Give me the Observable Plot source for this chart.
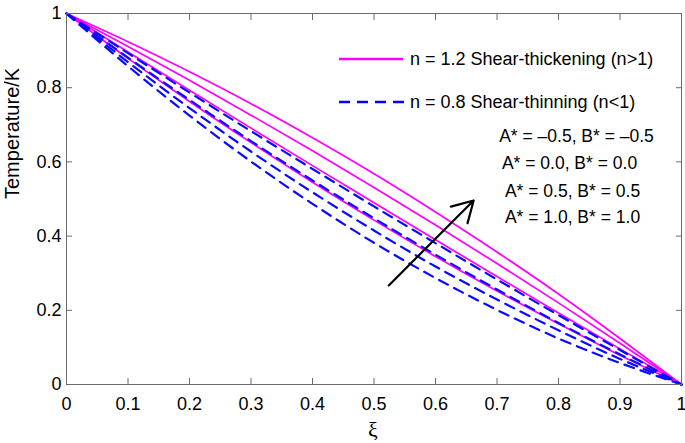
<!DOCTYPE html>
<html><head><meta charset="utf-8">
<script src="https://cdn.jsdelivr.net/npm/d3@7"></script>
<script src="https://cdn.jsdelivr.net/npm/@observablehq/plot@0.6"></script>
<style>body{margin:0;background:#fff}</style>
</head><body><div id="chart"></div>
<script>
// ---- data ----
const xi = [0, 0.1, 0.2, 0.3, 0.4, 0.5, 0.6, 0.7, 0.8, 0.9, 1];
// n = 1.2 shear-thickening (magenta, solid), top to bottom
const thick1 = [1, 0.924, 0.843, 0.757, 0.665, 0.568, 0.465, 0.357, 0.244, 0.124, 0];
const thick2 = [1, 0.911, 0.820, 0.726, 0.630, 0.531, 0.430, 0.326, 0.220, 0.111, 0];
const thick3 = [1, 0.896, 0.793, 0.691, 0.590, 0.490, 0.390, 0.291, 0.193, 0.096, 0];
const thick4 = [1, 0.879, 0.763, 0.652, 0.545, 0.443, 0.345, 0.252, 0.164, 0.079, 0];
// n = 0.8 shear-thinning (blue, dashed), top to bottom
const thin1 = [1, 0.893, 0.787, 0.683, 0.581, 0.480, 0.381, 0.283, 0.187, 0.093, 0];
const thin2 = [1, 0.881, 0.767, 0.656, 0.550, 0.448, 0.350, 0.256, 0.166, 0.081, 0];
const thin3 = [1, 0.869, 0.745, 0.628, 0.518, 0.415, 0.318, 0.229, 0.146, 0.069, 0];
const thin4 = [1, 0.858, 0.725, 0.601, 0.487, 0.382, 0.287, 0.201, 0.124, 0.058, 0];
const xTicks = [0, 0.1, 0.2, 0.3, 0.4, 0.5, 0.6, 0.7, 0.8, 0.9, 1];
const yTicks = [0, 0.2, 0.4, 0.6, 0.8, 1];
const legendLabels = ["n = 1.2 Shear-thickening (n>1)", "n = 0.8 Shear-thinning (n<1)"];
const paramLabels = ["A* = \u20130.5, B* = \u20130.5", "A* = 0.0, B* = 0.0", "A* = 0.5, B* = 0.5", "A* = 1.0, B* = 1.0"];
const arrowStart = [0.524, 0.267];
const arrowEnd = [0.662, 0.496];
const xLabel = "\u03BE";
const yLabel = "Temperature/K";

// ---- build table ----
const thickSeries = [thick1, thick2, thick3, thick4];
const thinSeries = [thin1, thin2, thin3, thin4];
const rows = [];
thickSeries.forEach((s, i) => s.forEach((v, j) => rows.push({xi: xi[j], T: v, group: "thick", id: "thick" + i})));
thinSeries.forEach((s, i) => s.forEach((v, j) => rows.push({xi: xi[j], T: v, group: "thin", id: "thin" + i})));

const axisGray = "#6b6b6b";
const font = "'Liberation Sans', Arial, Helvetica, sans-serif";

// layout (pixels, style only)
const ML = 66, MR = 4, MT = 13, MB = 59;
const paramPos = [[576, 136], [569, 163], [572, 191], [572, 217]];

const legend = () => {
  const g = d3.create("svg:g");
  g.append("line").attr("x1", 339).attr("x2", 403).attr("y1", 59).attr("y2", 59)
    .attr("stroke", "#ff00ff").attr("stroke-width", 2.6);
  g.append("line").attr("x1", 339).attr("x2", 405).attr("y1", 102).attr("y2", 102)
    .attr("stroke", "#0000ff").attr("stroke-width", 2.6).attr("stroke-dasharray", "11,7");
  [[legendLabels[0], 59], [legendLabels[1], 102]].forEach(([t, y]) => {
    g.append("text").attr("x", 410).attr("y", y).attr("dy", "0.35em")
      .attr("text-anchor", "start")
      .attr("font-family", font).attr("font-size", 18).attr("fill", "#000").text(t);
  });
  return g.node();
};

const chart = Plot.plot({
  width: 685,
  height: 443,
  marginLeft: ML, marginRight: MR, marginTop: MT, marginBottom: MB,
  style: {fontFamily: font, fontSize: "18px", color: "#000", background: "#fff", overflow: "visible"},
  x: {domain: [0, 1]},
  y: {domain: [0, 1]},
  marks: [
    Plot.line(rows.filter(d => d.group === "thick"), {x: "xi", y: "T", z: "id", stroke: "#ff00ff", strokeWidth: 1.7, curve: "natural"}),
    Plot.line(rows.filter(d => d.group === "thin"), {x: "xi", y: "T", z: "id", stroke: "#0a0aff", strokeWidth: 2.2, strokeDasharray: "10,7", curve: "natural"}),
    Plot.frame({stroke: axisGray, strokeWidth: 1}),
    Plot.axisX(xTicks, {anchor: "bottom", tickSize: -6, tickPadding: 19, tickFormat: d => String(d), label: null, stroke: axisGray, fill: "#000"}),
    Plot.axisX(xTicks, {anchor: "top", tickSize: -6, tickFormat: () => "", label: null, stroke: axisGray}),
    Plot.axisY(yTicks, {anchor: "left", tickSize: -6, tickPadding: 11, tickFormat: d => String(d), label: null, stroke: axisGray, fill: "#000"}),
    Plot.axisY(yTicks, {anchor: "right", tickSize: -6, tickFormat: () => "", label: null, stroke: axisGray}),
    Plot.arrow([{x1: arrowStart[0], y1: arrowStart[1], x2: arrowEnd[0], y2: arrowEnd[1]}],
      {x1: "x1", y1: "y1", x2: "x2", y2: "y2", stroke: "#000", strokeWidth: 2.2, headLength: 16}),
    ...paramLabels.map((t, i) => Plot.text([t], {text: d => d, frameAnchor: "top-left",
      dx: paramPos[i][0] - ML, dy: paramPos[i][1] - MT, textAnchor: "middle", lineAnchor: "middle", fontSize: 17.5, fill: "#000"})),
    Plot.text([yLabel], {text: d => d, frameAnchor: "left", dx: -54, rotate: -90, lineAnchor: "middle", fontSize: 20, fill: "#000"}),
    Plot.text([xLabel], {text: d => d, frameAnchor: "bottom", dy: 45, dx: -1, lineAnchor: "middle", fontSize: 22, fontFamily: "'Liberation Serif', 'DejaVu Serif', serif", fill: "#000"}),
    legend
  ]
});
document.getElementById("chart").appendChild(chart);
</script>
</body></html>
